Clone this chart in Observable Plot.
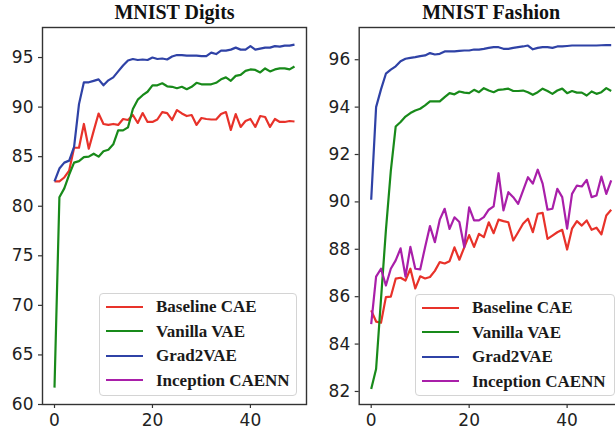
<!DOCTYPE html>
<html>
<head>
<meta charset="utf-8">
<script src="https://cdn.jsdelivr.net/npm/d3@7"></script>
<script src="https://cdn.jsdelivr.net/npm/@observablehq/plot@0.6"></script>
<style>
  html, body { margin: 0; padding: 0; background: #fff; overflow: hidden; }
  #wrap { position: relative; width: 615px; height: 438px; overflow: hidden; }
  .panel { position: absolute; top: 0; }
  .legend { position: absolute; box-sizing: border-box; border: 1px solid #d4d4d4; border-radius: 4px; background: rgba(255,255,255,0.85); }
  .legend .sw { position: absolute; left: 6px; width: 37px; height: 0; }
  .legend .lb { position: absolute; left: 56px; font-family: "Liberation Serif", "Times New Roman", serif; font-weight: bold; font-size: 17px; line-height: 20px; color: #1a1a1a; white-space: nowrap; }
</style>
</head>
<body>
<div id="wrap"></div>
<script>
// ---- data ----
const epochs = [0,1,2,3,4,5,6,7,8,9,10,11,12,13,14,15,16,17,18,19,20,21,22,23,24,25,26,27,28,29,30,31,32,33,34,35,36,37,38,39,40,41,42,43,44,45,46,47,48,49];
const seriesNames = ["Baseline CAE", "Vanilla VAE", "Grad2VAE", "Inception CAENN"];
const seriesColors = ["#e8322a", "#188a1a", "#2f42a6", "#a91fa9"];
const titles = ["MNIST Digits", "MNIST Fashion"];
const xTicks = [0, 20, 40];
const yTicksDigits = [60, 65, 70, 75, 80, 85, 90, 95];
const yTicksFashion = [82, 84, 86, 88, 90, 92, 94, 96];

// MNIST Digits
const digitsCAE = [82.5, 82.5, 82.9, 83.6, 85.9, 85.9, 88.3, 85.8, 87.6, 89.35, 88.3, 88.2, 88.3, 88.2, 88.8, 88.7, 89.2, 88.4, 89.4, 88.5, 88.5, 88.75, 89.5, 89.4, 88.7, 89.7, 89.36, 89.1, 89.2, 88.2, 88.9, 88.8, 88.75, 88.75, 89.3, 89.5, 87.7, 89.3, 88.0, 88.6, 88.8, 88.0, 89.1, 89.0, 88.0, 88.8, 88.5, 88.5, 88.6, 88.55];
const digitsVAE = [61.7, 80.9, 81.8, 83.2, 84.4, 84.55, 84.95, 85.0, 85.3, 85.0, 85.55, 85.7, 86.25, 87.65, 87.65, 87.95, 89.8, 90.75, 91.2, 91.55, 92.2, 92.2, 92.4, 92.1, 92.05, 91.9, 92.05, 91.8, 92.05, 92.45, 92.3, 92.3, 92.3, 92.45, 92.8, 93.0, 92.65, 93.15, 93.25, 93.65, 93.8, 93.75, 93.5, 93.9, 93.6, 93.8, 93.9, 93.9, 93.8, 94.1];
const digitsGrad2VAE = [82.5, 83.8, 84.4, 84.6, 86.0, 90.3, 92.5, 92.5, 92.65, 92.8, 92.2, 92.7, 93.0, 93.6, 94.2, 94.7, 94.85, 94.75, 94.8, 94.75, 95.0, 94.85, 94.9, 94.8, 95.1, 95.25, 95.25, 95.2, 95.2, 95.2, 95.15, 95.15, 95.5, 95.35, 95.7, 95.7, 95.8, 96.0, 95.8, 95.8, 96.15, 95.8, 95.9, 96.0, 96.0, 96.15, 96.1, 96.2, 96.2, 96.3];

// MNIST Fashion
const fashionCAE = [85.42, 84.95, 84.9, 85.98, 86.0, 86.76, 86.8, 86.68, 87.18, 86.35, 86.86, 86.77, 86.83, 87.09, 87.46, 87.4, 87.5, 88.08, 87.56, 88.08, 88.6, 88.1, 88.65, 88.51, 89.14, 88.68, 89.25, 89.19, 89.14, 88.37, 88.72, 89.08, 89.29, 88.72, 89.5, 89.54, 88.44, 88.58, 88.72, 88.82, 87.99, 88.87, 89.19, 89.0, 89.22, 88.82, 88.91, 88.63, 89.43, 89.67];
const fashionVAE = [82.1, 82.95, 85.9, 88.8, 91.3, 93.18, 93.37, 93.6, 93.75, 93.86, 93.93, 94.07, 94.24, 94.24, 94.24, 94.42, 94.59, 94.54, 94.66, 94.61, 94.59, 94.73, 94.63, 94.8, 94.7, 94.63, 94.73, 94.75, 94.78, 94.68, 94.68, 94.7, 94.63, 94.52, 94.63, 94.78, 94.68, 94.56, 94.7, 94.78, 94.59, 94.68, 94.61, 94.61, 94.49, 94.66, 94.56, 94.63, 94.8, 94.68];
const fashionGrad2VAE = [90.09, 94.0, 94.75, 95.41, 95.58, 95.72, 95.94, 96.04, 96.08, 96.11, 96.15, 96.18, 96.28, 96.22, 96.25, 96.35, 96.35, 96.35, 96.37, 96.39, 96.39, 96.43, 96.43, 96.46, 96.5, 96.53, 96.53, 96.46, 96.46, 96.5, 96.53, 96.56, 96.6, 96.44, 96.5, 96.53, 96.53, 96.5, 96.56, 96.56, 96.58, 96.6, 96.6, 96.6, 96.6, 96.6, 96.6, 96.61, 96.62, 96.62];
const fashionInception = [84.84, 86.85, 87.18, 86.47, 87.18, 87.53, 88.04, 86.85, 88.1, 87.18, 87.15, 88.09, 88.98, 88.3, 89.25, 89.71, 88.86, 89.35, 89.15, 88.09, 89.77, 89.22, 89.22, 89.36, 89.67, 89.81, 91.21, 89.64, 90.41, 90.2, 89.92, 90.48, 91.04, 90.77, 91.36, 90.77, 89.67, 89.71, 90.55, 90.2, 88.87, 90.34, 90.69, 90.65, 90.93, 90.2, 90.27, 91.07, 90.34, 90.91];

// ---- build long tables ----
function toRows(list) {
  const rows = [];
  list.forEach(([name, vals]) => vals.forEach((v, i) => rows.push({series: name, epoch: epochs[i], value: v})));
  return rows;
}
const digitsRows = toRows([["Baseline CAE", digitsCAE], ["Vanilla VAE", digitsVAE], ["Grad2VAE", digitsGrad2VAE]]);
const fashionRows = toRows([["Baseline CAE", fashionCAE], ["Vanilla VAE", fashionVAE], ["Grad2VAE", fashionGrad2VAE], ["Inception CAENN", fashionInception]]);

const axisColor = "#333";
function panel(rows, title, yDomain, yTicks, opts) {
  return Plot.plot({
    width: opts.width, height: 438,
    marginLeft: opts.ml, marginRight: opts.mr, marginTop: 27, marginBottom: 34,
    style: {fontFamily: "'DejaVu Sans', sans-serif", fontSize: "17px", color: "#222", background: "transparent", overflow: "visible"},
    x: {domain: [-2.45, 51.45]},
    y: {domain: yDomain},
    color: {domain: seriesNames, range: seriesColors},
    marks: [
      Plot.line(rows, {x: "epoch", y: "value", z: "series", stroke: "series", strokeWidth: 2.2, strokeLinejoin: "round", strokeLinecap: "butt"}),
      Plot.frame({stroke: axisColor, strokeWidth: 1.4}),
      Plot.axisX(xTicks, {tickSize: 4, tickPadding: 5, stroke: axisColor, strokeWidth: 1.2, fill: "#222", label: null, tickFormat: d => String(d)}),
      Plot.axisY(yTicks, {tickSize: 4, tickPadding: 5, stroke: axisColor, strokeWidth: 1.2, fill: "#222", label: null, tickFormat: d => String(d)}),
      Plot.text([title], {frameAnchor: "top", lineAnchor: "bottom", dy: -9, fontFamily: "'Liberation Serif', 'Times New Roman', serif", fontWeight: "bold", fontSize: 20, fill: "#111"})
    ]
  });
}

const wrap = document.getElementById("wrap");
const left = panel(digitsRows, titles[0], [60, 98.03], yTicksDigits, {width: 310, ml: 42, mr: 4});
left.classList.add("panel"); left.style.left = "0px";
const right = panel(fashionRows, titles[1], [81.45, 97.36], yTicksFashion, {width: 320, ml: 53.7, mr: 2.3});
right.classList.add("panel"); right.style.left = "305px";
wrap.appendChild(left);
wrap.appendChild(right);

function legend(x, y, w, h) {
  const box = document.createElement("div");
  box.className = "legend";
  box.style.left = x + "px"; box.style.top = y + "px";
  box.style.width = w + "px"; box.style.height = h + "px";
  seriesNames.forEach((name, k) => {
    const cy = 13 + 24.5 * k;
    const sw = document.createElement("div");
    sw.className = "sw";
    sw.style.top = (cy - 1.2) + "px";
    sw.style.borderTop = "2.5px solid " + seriesColors[k];
    const lb = document.createElement("div");
    lb.className = "lb";
    lb.style.top = (cy - 10) + "px";
    lb.textContent = name;
    box.appendChild(sw); box.appendChild(lb);
  });
  wrap.appendChild(box);
}
legend(99, 293, 198, 103);
legend(415, 294, 200, 102);
</script>
</body>
</html>
